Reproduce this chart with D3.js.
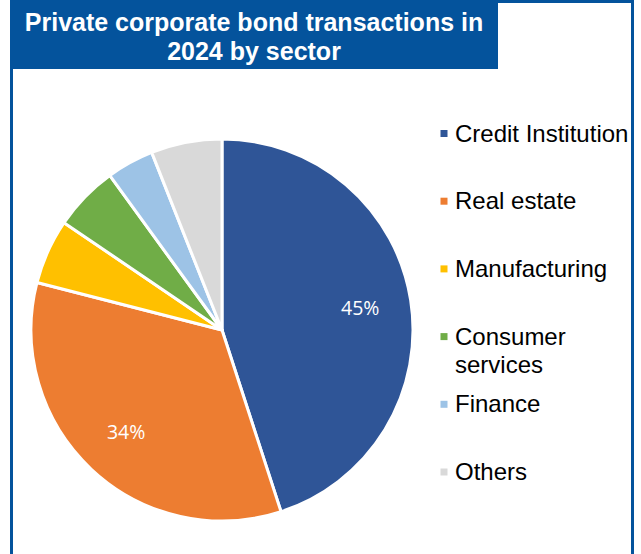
<!DOCTYPE html>
<html>
<head>
<meta charset="utf-8">
<script src="https://cdn.jsdelivr.net/npm/d3@7"></script>
<style>
  html, body { margin: 0; padding: 0; background: #ffffff; }
  svg { display: block; }
</style>
</head>
<body>
<svg id="chart" width="641" height="554"></svg>
<script>
// Sector shares of private corporate bond transactions, 2024 (percent)
const sectors = ["Credit Institution", "Real estate", "Manufacturing", "Consumer services", "Finance", "Others"];
const legendLines = [["Credit Institution"], ["Real estate"], ["Manufacturing"], ["Consumer", "services"], ["Finance"], ["Others"]];
const shares = [45, 34, 5.5, 5.5, 4, 6];
const sliceColors = ["#2F5597", "#ED7D31", "#FFC000", "#70AD47", "#9DC3E6", "#D9D9D9"];
const labelledSectors = ["Credit Institution", "Real estate"];
const titleLines = ["Private corporate bond transactions in", "2024 by sector"];

const W = 641, H = 554;
const svg = d3.select("#chart");
const frameBlue = "#04539C";

// outer frame
svg.append("rect")
  .attr("x", 11.5).attr("y", 1.5)
  .attr("width", 621).attr("height", 620)
  .attr("fill", "none")
  .attr("stroke", frameBlue)
  .attr("stroke-width", 3);

// title banner
svg.append("rect")
  .attr("x", 10).attr("y", 0)
  .attr("width", 488).attr("height", 69)
  .attr("fill", frameBlue);

svg.append("g").selectAll("text")
  .data(titleLines)
  .join("text")
  .attr("x", 254)
  .attr("y", (d, i) => 30.5 + i * 29.5)
  .attr("text-anchor", "middle")
  .attr("fill", "#ffffff")
  .attr("font-family", "'Liberation Sans', Arial, sans-serif")
  .attr("font-weight", "bold")
  .attr("font-size", 25)
  .text(d => d);

// pie
const cx = 222, cy = 330, radius = 191;
const data = sectors.map((s, i) => ({ sector: s, value: shares[i] }));
const color = d3.scaleOrdinal().domain(sectors).range(sliceColors);

const pie = d3.pie().sort(null).value(d => d.value);
const arcs = pie(data);
const arc = d3.arc().innerRadius(0).outerRadius(radius);
const labelArc = d3.arc().innerRadius(140).outerRadius(140);

const g = svg.append("g").attr("transform", `translate(${cx},${cy})`);

g.selectAll("path")
  .data(arcs)
  .join("path")
  .attr("d", arc)
  .attr("fill", d => color(d.data.sector))
  .attr("stroke", "#ffffff")
  .attr("stroke-width", 3)
  .attr("stroke-linejoin", "round");

const pct = d3.format(".0f");
g.selectAll("text.value")
  .data(arcs.filter(d => labelledSectors.includes(d.data.sector)))
  .join("text")
  .attr("class", "value")
  .attr("transform", d => `translate(${labelArc.centroid(d)})`)
  .attr("text-anchor", "middle")
  .attr("dy", "0.35em")
  .attr("fill", "#ffffff")
  .attr("font-family", "'Open Sans', sans-serif")
  .attr("font-size", 19.5)
  .text(d => pct(d.data.value) + "%");

// legend
const legend = svg.append("g").attr("transform", "translate(440.5,0)");
const rowY = d3.scalePoint().domain(sectors).range([141.5, 480]);

const item = legend.selectAll("g.item")
  .data(sectors)
  .join("g")
  .attr("class", "item")
  .attr("transform", d => `translate(0,${rowY(d)})`);

item.append("rect")
  .attr("x", 0).attr("y", -11.5)
  .attr("width", 7).attr("height", 7)
  .attr("fill", d => color(d));

item.append("text")
  .attr("x", 14.5)
  .attr("font-family", "'Liberation Sans', Arial, sans-serif")
  .attr("font-size", 24)
  .attr("fill", "#000000")
  .selectAll("tspan")
  .data((d, i) => legendLines[i])
  .join("tspan")
  .attr("x", 14.5)
  .attr("y", (d, i) => i * 28.3)
  .text(d => d);
</script>
</body>
</html>
